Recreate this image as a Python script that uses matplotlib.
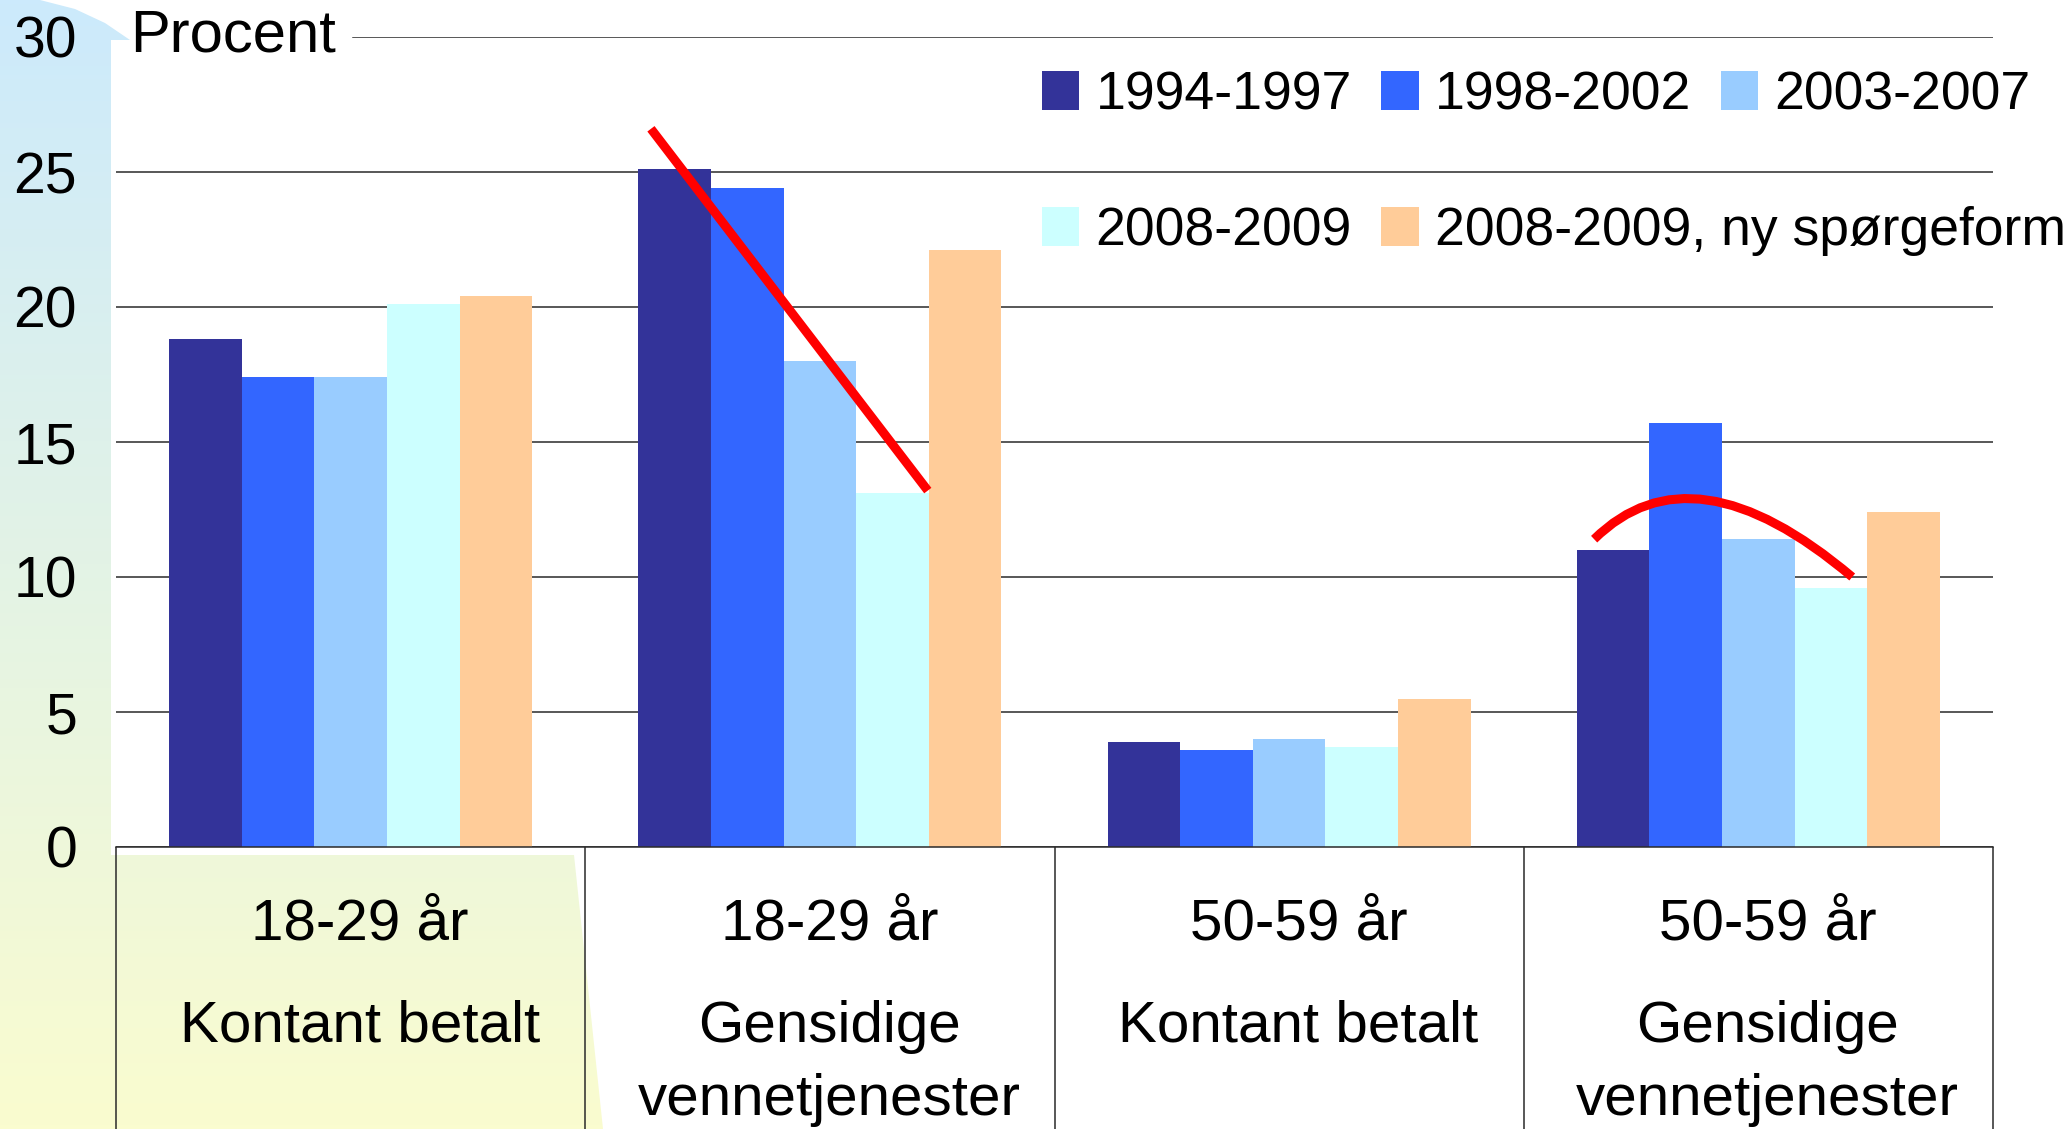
import matplotlib

matplotlib.use("Agg")

import matplotlib.pyplot as plt
import numpy as np
from matplotlib import patches
from matplotlib.colors import LinearSegmentedColormap
from matplotlib.path import Path as MplPath
from matplotlib.transforms import blended_transform_factory

W, H = 2070, 1129

AGE_GROUPS = ["18-29 år", "18-29 år", "50-59 år", "50-59 år"]
WORK_TYPES = ["Kontant betalt", "Gensidige\nvennetjenester",
              "Kontant betalt", "Gensidige\nvennetjenester"]
PERIODS = ["1994-1997", "1998-2002", "2003-2007", "2008-2009",
           "2008-2009, ny spørgeform"]
V_1994_1997 = [18.8, 25.1, 3.9, 11.0]
V_1998_2002 = [17.4, 24.4, 3.6, 15.7]
V_2003_2007 = [17.4, 18.0, 4.0, 11.4]
V_2008_2009 = [20.1, 13.1, 3.7, 9.6]
V_2008_2009_NY = [20.4, 22.1, 5.5, 12.4]
Y_TICKS = [0, 5, 10, 15, 20, 25, 30]

# hand-drawn red trend marks, in data units
TREND_LINE_X = [0.64, 1.23]
TREND_LINE_Y = [26.6, 13.2]
TREND_ARC_X = [2.65, 2.86, 3.20]  # start, control, end
TREND_ARC_Y = [11.4, 15.0, 10.0]

COLORS = ["#333399", "#3366FF", "#99CCFF", "#CCFFFF", "#FFCC99"]
RED = "#FF0000"
LINE = "#2A2A2A"
TOP_BLUE = "#CCEAFC"
BOTTOM_YELLOW = "#FAFCCF"

plt.rcParams["font.family"] = ["Liberation Sans", "DejaVu Sans"]


def draw_background(fig):
    bg = fig.add_axes([0, 0, 1, 1], zorder=-5)
    bg.set_xlim(0, W)
    bg.set_ylim(H, 0)
    bg.axis("off")
    cmap = LinearSegmentedColormap.from_list("bg", [TOP_BLUE, BOTTOM_YELLOW])
    grad = np.linspace(0, 1, 256)[:, None]
    im = bg.imshow(grad, cmap=cmap, extent=[0, W, H, 0], aspect="auto")
    outline = [(0, 0), (40, 0), (75, 9), (105, 23), (130, 40), (111, 40),
               (111, 855), (574, 855), (603, H), (0, H)]
    poly = patches.Polygon(outline, closed=True, facecolor="none",
                           edgecolor="none", transform=bg.transData)
    bg.add_patch(poly)
    im.set_clip_path(poly)


fig = plt.figure(figsize=(W / 100, H / 100), dpi=100)
fig.patch.set_facecolor("white")
draw_background(fig)

ax = fig.add_axes([116 / W, 1 - 847 / H, (1993 - 116) / W, (847 - 37) / H])
ax.set_facecolor("none")

series = [V_1994_1997, V_1998_2002, V_2003_2007, V_2008_2009, V_2008_2009_NY]
x = np.arange(len(AGE_GROUPS))
width = 0.1548
handles = []
for j, (vals, color, label) in enumerate(zip(series, COLORS, PERIODS)):
    bars = ax.bar(x + (j - 2) * width, vals, width, color=color,
                  label=label, zorder=3, linewidth=0)
    handles.append(bars)

ax.set_xlim(-0.5, len(AGE_GROUPS) - 0.5)
ax.set_ylim(0, 30)
ax.set_yticks(Y_TICKS)
ax.set_xticks([])
ax.tick_params(axis="y", length=0, pad=28, labelsize=41)
for side in ("left", "right", "top"):
    ax.spines[side].set_visible(False)
ax.spines["bottom"].set_color(LINE)
ax.spines["bottom"].set_linewidth(1.1)
ax.spines["bottom"].set_zorder(4)

ax.set_axisbelow(True)
ax.grid(axis="y", color=LINE, linewidth=1.1)
ax.get_ygridlines()[-1].set_visible(False)
ax.axhline(30, xmin=(353 - 116) / (1993 - 116), xmax=1, color=LINE,
           linewidth=1.1, zorder=1)

fig.text(130 / W, 1 - 52 / H, "Procent", fontsize=43, ha="left",
         va="baseline")

# category table below the axis
trans = blended_transform_factory(ax.transData, ax.transAxes)
bounds = np.arange(len(AGE_GROUPS) + 1) - 0.5
ax.vlines(bounds, -0.5, 0, transform=trans, colors=LINE, linewidth=1.1,
          clip_on=False)
line_step = 73 / 810
for i, (age, kind) in enumerate(zip(AGE_GROUPS, WORK_TYPES)):
    ax.text(i + 0.02, -0.1136, age, transform=trans, ha="center",
            va="baseline", fontsize=42)
    for k, part in enumerate(kind.split("\n")):
        ax.text(i + 0.02, -0.2407 - k * line_step, part, transform=trans,
                ha="center", va="baseline", fontsize=42)

# red trend marks
ax.plot(TREND_LINE_X, TREND_LINE_Y, color=RED, linewidth=6.5,
        solid_capstyle="butt", zorder=5)
arc = MplPath(list(zip(TREND_ARC_X, TREND_ARC_Y)),
              [MplPath.MOVETO, MplPath.CURVE3, MplPath.CURVE3])
ax.add_patch(patches.PathPatch(arc, facecolor="none", edgecolor=RED,
                               linewidth=6.5, capstyle="butt", zorder=5))

legend_kw = dict(frameon=False, fontsize=38.5, handlelength=0.7,
                 handleheight=0.74, handletextpad=0.3, columnspacing=0.55,
                 borderpad=0, borderaxespad=0, loc="center left",
                 bbox_transform=fig.transFigure)
leg1 = ax.legend(handles[:3], PERIODS[:3], ncol=3,
                 bbox_to_anchor=(1042 / W, 1 - 95 / H), **legend_kw)
ax.add_artist(leg1)
ax.legend(handles[3:], PERIODS[3:], ncol=2,
          bbox_to_anchor=(1042 / W, 1 - 231 / H), **legend_kw)

fig.savefig("out.png", dpi=100)
